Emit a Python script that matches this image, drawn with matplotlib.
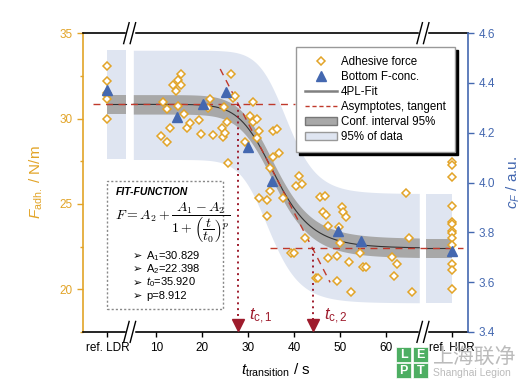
import numpy as np
import matplotlib.pyplot as plt
from matplotlib.patches import Rectangle, Patch
from matplotlib.lines import Line2D

plt.rcParams['font.family'] = ['Liberation Sans', 'DejaVu Sans']
plt.rcParams['mathtext.fontset'] = 'custom'
plt.rcParams['mathtext.rm'] = 'Liberation Sans'
plt.rcParams['mathtext.it'] = 'Liberation Sans:italic'
plt.rcParams['mathtext.bf'] = 'Liberation Sans:bold'

# 4PL fit parameters
A1, A2, t0, p = 30.829, 22.398, 35.920, 8.912

# adhesive force vs transition time
t_force = [11.1, 11.5, 12.4, 12.4, 13.0, 13.7, 14.3, 14.8, 14.8, 15.4,
           15.4, 16.1, 16.7, 17.4, 19.3, 19.8, 21.3, 21.7, 22.4, 24.3,
           24.6, 24.8, 25.0, 25.4, 25.7, 26.3, 26.7, 27.2, 29.3, 30.4,
           31.1, 31.1, 32.0, 32.0, 32.4, 32.4, 34.1, 34.1, 34.8, 34.8,
           35.4, 35.4, 36.3, 36.7, 37.6, 39.4, 39.9, 40.4, 41.1, 41.7,
           42.4, 44.8, 45.2, 45.7, 46.3, 46.7, 47.0, 47.4, 47.4, 49.3,
           49.3, 49.8, 50.0, 50.4, 50.7, 51.3, 52.0, 52.4, 54.3, 55.0,
           55.7, 61.3, 61.7, 62.4, 64.3, 65.0, 65.7]
f_force = [28.95, 30.99, 30.53, 28.60, 29.47, 31.99, 31.64, 30.76, 32.28, 32.63,
           31.99, 30.29, 29.42, 29.71, 29.94, 29.12, 30.64, 31.17, 29.01, 29.42,
           28.89, 30.70, 29.18, 29.82, 27.37, 32.63, 31.23, 31.29, 28.60, 30.12,
           29.77, 30.99, 30.00, 28.83, 29.24, 25.32, 25.20, 24.27, 27.08, 25.73,
           29.24, 27.72, 29.36, 27.95, 25.32, 22.11, 22.11, 26.02, 26.61, 26.14,
           22.98, 20.64, 20.64, 25.38, 24.50, 25.44, 24.33, 23.68, 21.81, 20.47,
           21.93, 23.63, 22.69, 24.80, 24.50, 24.21, 21.58, 19.82, 22.11, 21.29,
           21.29, 21.87, 20.76, 21.46, 25.61, 22.98, 19.82]
f_ldr = [33.10, 32.22, 31.50, 31.35, 31.17, 30.00]
f_hdr = [27.43, 27.25, 26.55, 24.85, 23.92, 23.80, 23.39, 23.27, 22.98, 22.57, 21.46, 21.11, 20.00]

# bottom F concentration (right axis)
t_conc = [14.6, 20.2, 25.2, 30.0, 35.2, 49.6, 54.6]
c_conc = [4.263, 4.315, 4.363, 4.142, 4.006, 3.805, 3.765]
c_ldr = 4.371
c_hdr = 3.725

# 95% of data band edges, 4PL shaped (A1, A2, t0, p)
band_hi = (34.0, 25.6, 38.5, 12.0)
band_lo = (27.6, 19.2, 34.6, 10.5)
ci_half = 0.57

x_ldr, x_hdr = -0.65, 74.3
brk1, brk2 = 4.2, 68.0

gold = '#E2A428'
blue = '#4468B0'
dred = '#9E1B2C'
lred = '#C0392B'
grey_band = '#A8A8A8'
light_band = '#DFE5F1'


def fourpl(t, a1, a2, tt0, pp):
    return a2 + (a1 - a2) / (1 + (t / tt0) ** pp)


fig = plt.figure(figsize=(5.3, 3.9), dpi=100)
ax = fig.add_axes([0.157, 0.149, 0.726, 0.766])
ax2 = ax.twinx()

xmin, xmax = -5.9, 77.8
ax.set_xlim(xmin, xmax)
ax.set_ylim(17.5, 35)
ax2.set_ylim(3.4, 4.6)

# bands
tm = np.linspace(5.0, 67.2, 300)
ax.fill_between(tm, fourpl(tm, *band_lo), fourpl(tm, *band_hi), color=light_band, lw=0, zorder=1)
ax.fill_between([x_ldr, 3.5], band_lo[0], band_hi[0], color=light_band, lw=0, zorder=1)
ax.fill_between([68.7, x_hdr], band_lo[1], band_hi[1], color=light_band, lw=0, zorder=1)

fit = fourpl(tm, A1, A2, t0, p)
ax.fill_between(tm, fit - ci_half, fit + ci_half, color=grey_band, lw=0, zorder=2)
ax.fill_between([x_ldr, 3.5], A1 - ci_half, A1 + ci_half, color=grey_band, lw=0, zorder=2)
ax.fill_between([68.7, x_hdr], A2 - ci_half, A2 + ci_half, color=grey_band, lw=0, zorder=2)
ax.plot(tm, fit, color='#333333', lw=0.8, zorder=3)
ax.plot([x_ldr, 3.5], [A1, A1], color='#333333', lw=0.8, zorder=3)
ax.plot([68.7, x_hdr], [A2, A2], color='#333333', lw=0.8, zorder=3)

# asymptotes and tangent
slope = -(A1 - A2) * p / (4 * t0)
f_mid = (A1 + A2) / 2
tc1 = t0 + (A1 - f_mid) / slope
tc2 = t0 + (A2 - f_mid) / slope
ax.plot([-3.7, 40.2], [A1, A1], color=lred, lw=1, ls=(0, (5, 4)), zorder=3)
ax.plot([34.8, 76.7], [A2, A2], color=lred, lw=1, ls=(0, (5, 4)), zorder=3)
tt = np.array([23.9, 47.8])
ax.plot(tt, f_mid + slope * (tt - t0), color=lred, lw=1, ls=(0, (5, 4)), zorder=3)

# t_c markers
for tc, fy, lab, lx in [(tc1, A1, r'$t_{\mathrm{c},1}$', 30.2), (tc2, A2, r'$t_{\mathrm{c},2}$', 46.4)]:
    ax.plot([tc, tc], [fy, 18.2], color=dred, lw=1.4, ls=(0, (1, 2)), zorder=3)
    ax.plot([tc], [17.9], marker='v', color=dred, ms=9, zorder=4, clip_on=False)
    ax.text(lx, 18.4, lab, color=dred, fontsize=12, va='center', ha='left')

# points
mk = dict(ls='none', marker='D', ms=4.2, mfc='white', mec=gold, mew=1.1, zorder=5)
ax.plot(t_force, f_force, **mk)
ax.plot([x_ldr] * len(f_ldr), f_ldr, **mk)
ax.plot([x_hdr] * len(f_hdr), f_hdr, **mk)
ax2.plot(t_conc, c_conc, ls='none', marker='^', ms=7, color=blue, zorder=5)
ax2.plot([x_ldr, x_hdr], [c_ldr, c_hdr], ls='none', marker='^', ms=7, color=blue, zorder=5)

# axes styling
ax.set_xticks([x_ldr, 10, 20, 30, 40, 50, 60, x_hdr])
ax.set_xticklabels(['ref. LDR', '10', '20', '30', '40', '50', '60', 'ref. HDR'])
ax.set_yticks([20, 25, 30, 35])
ax.set_yticks([17.5, 22.5, 27.5, 32.5], minor=True)
ax2.set_yticks([3.4, 3.6, 3.8, 4.0, 4.2, 4.4, 4.6])
ax.tick_params(axis='x', direction='out', length=3.5, labelsize=8.5, width=1)
ax.tick_params(axis='y', which='both', direction='out', colors=gold, labelsize=8.5, width=1)
ax.tick_params(axis='y', which='major', length=4)
ax.tick_params(axis='y', which='minor', length=2.5)
ax2.tick_params(axis='y', direction='out', colors=blue, labelsize=8.5, length=4, width=1)
ax.spines['left'].set_color(gold)
ax.spines['left'].set_linewidth(1.2)
ax.spines['right'].set_visible(False)
ax2.spines['right'].set_color(blue)
ax2.spines['right'].set_linewidth(1.2)
for s in ['left', 'top', 'bottom']:
    ax2.spines[s].set_visible(False)
for s in ['top', 'bottom']:
    ax.spines[s].set_linewidth(1.2)

ax.set_xlabel(r'$t_{\mathrm{transition}}$ / s', fontsize=11, labelpad=6)
ax.set_ylabel(r'$F_{\mathrm{adh.}}$ / N/m', fontsize=11, color=gold)
ax.yaxis.set_label_coords(-0.1, 0.5)
ax2.set_ylabel(r'$c_F$ / a.u.', fontsize=11, color=blue)
ax2.yaxis.set_label_coords(1.095, 0.5)

# axis breaks
for xb in [brk1, brk2]:
    xa = (xb - xmin) / (xmax - xmin)
    for ya in [0, 1]:
        ax.plot([xa - 0.008, xa + 0.008], [ya, ya], color='white', lw=2.5,
                transform=ax.transAxes, clip_on=False, zorder=10)
        ax.plot([xa - 0.0156, xa - 0.0013], [ya - 0.035, ya + 0.035], color='black', lw=1,
                transform=ax.transAxes, clip_on=False, zorder=11)
        ax.plot([xa + 0.0013, xa + 0.0156], [ya - 0.035, ya + 0.035], color='black', lw=1,
                transform=ax.transAxes, clip_on=False, zorder=11)

# fit function box
ax.add_patch(Rectangle((0.0623, 0.077), 0.301, 0.428, transform=ax.transAxes, fill=False,
                       ec='#888888', ls=(0, (1.5, 1.5)), lw=1, zorder=6))
ax.text(0.085, 0.467, 'FIT-FUNCTION', transform=ax.transAxes, fontsize=7.5, fontweight='bold',
        style='italic', va='center', zorder=7)
ax.text(0.083, 0.365, r'$F = A_2 + \dfrac{A_1 - A_2}{1+\left(\dfrac{t}{t_0}\right)^p}$',
        transform=ax.transAxes, fontsize=10, math_fontfamily='cm', va='center', zorder=7)
fit_lines = ['A$_1$=%.3f' % A1, 'A$_2$=%.3f' % A2, '$t_0$=%.3f' % t0, 'p=%.3f' % p]
for i, s in enumerate(fit_lines):
    yy = 0.255 - i * 0.045
    ax.text(0.13, yy, '\u27a2', transform=ax.transAxes, fontsize=8, va='center', zorder=7,
            family=['DejaVu Sans'])
    ax.text(0.163, yy, s, transform=ax.transAxes, fontsize=8, va='center', zorder=7)

# legend
handles = [
    Line2D([], [], ls='none', marker='D', ms=4.2, mfc='white', mec=gold, mew=1.1),
    Line2D([], [], ls='none', marker='^', ms=7, color=blue),
    Line2D([], [], color='#808080', lw=1.8),
    Line2D([], [], color=lred, lw=1, ls=(0, (3, 2))),
    Patch(facecolor=grey_band, edgecolor='#777777'),
    Patch(facecolor=light_band, edgecolor='#999999'),
]
labels = ['Adhesive force', 'Bottom F-conc.', '4PL-Fit', 'Asymptotes, tangent',
          'Conf. interval 95%', '95% of data']
leg = ax2.legend(handles, labels, loc='upper right', bbox_to_anchor=(0.966, 0.953), fontsize=8.3,
                 fancybox=False, framealpha=1, edgecolor='#999999', borderpad=0.8,
                 labelspacing=0.25, handlelength=2.8, handletextpad=0.3, borderaxespad=0,
                 shadow={'color': 'black', 'alpha': 1})
leg.set_zorder(20)

# watermark
W, H = 530, 390
for (px, py, letter) in [(396, 347, 'L'), (413, 347, 'E'), (396, 363, 'P'), (413, 363, 'T')]:
    fig.add_artist(Rectangle((px / W, 1 - (py + 15) / H), 15 / W, 15 / H, transform=fig.transFigure,
                             facecolor='#4DAE62', edgecolor='white', lw=0.5, zorder=30))
    fig.text((px + 7.5) / W, 1 - (py + 7.5) / H, letter, color='white', fontsize=9, fontweight='bold',
             ha='center', va='center', zorder=31)
fig.text(433 / W, 1 - 357 / H, '上海联净', family=['Noto Sans CJK SC', 'DejaVu Sans'],
         fontsize=15, color='#BBBBBB', va='center', ha='left', zorder=31)
fig.text(433 / W, 1 - 373 / H, 'Shanghai Legion', fontsize=7.5, color='#BBBBBB',
         va='center', ha='left', zorder=31)

fig.savefig('out.png', dpi=100)
